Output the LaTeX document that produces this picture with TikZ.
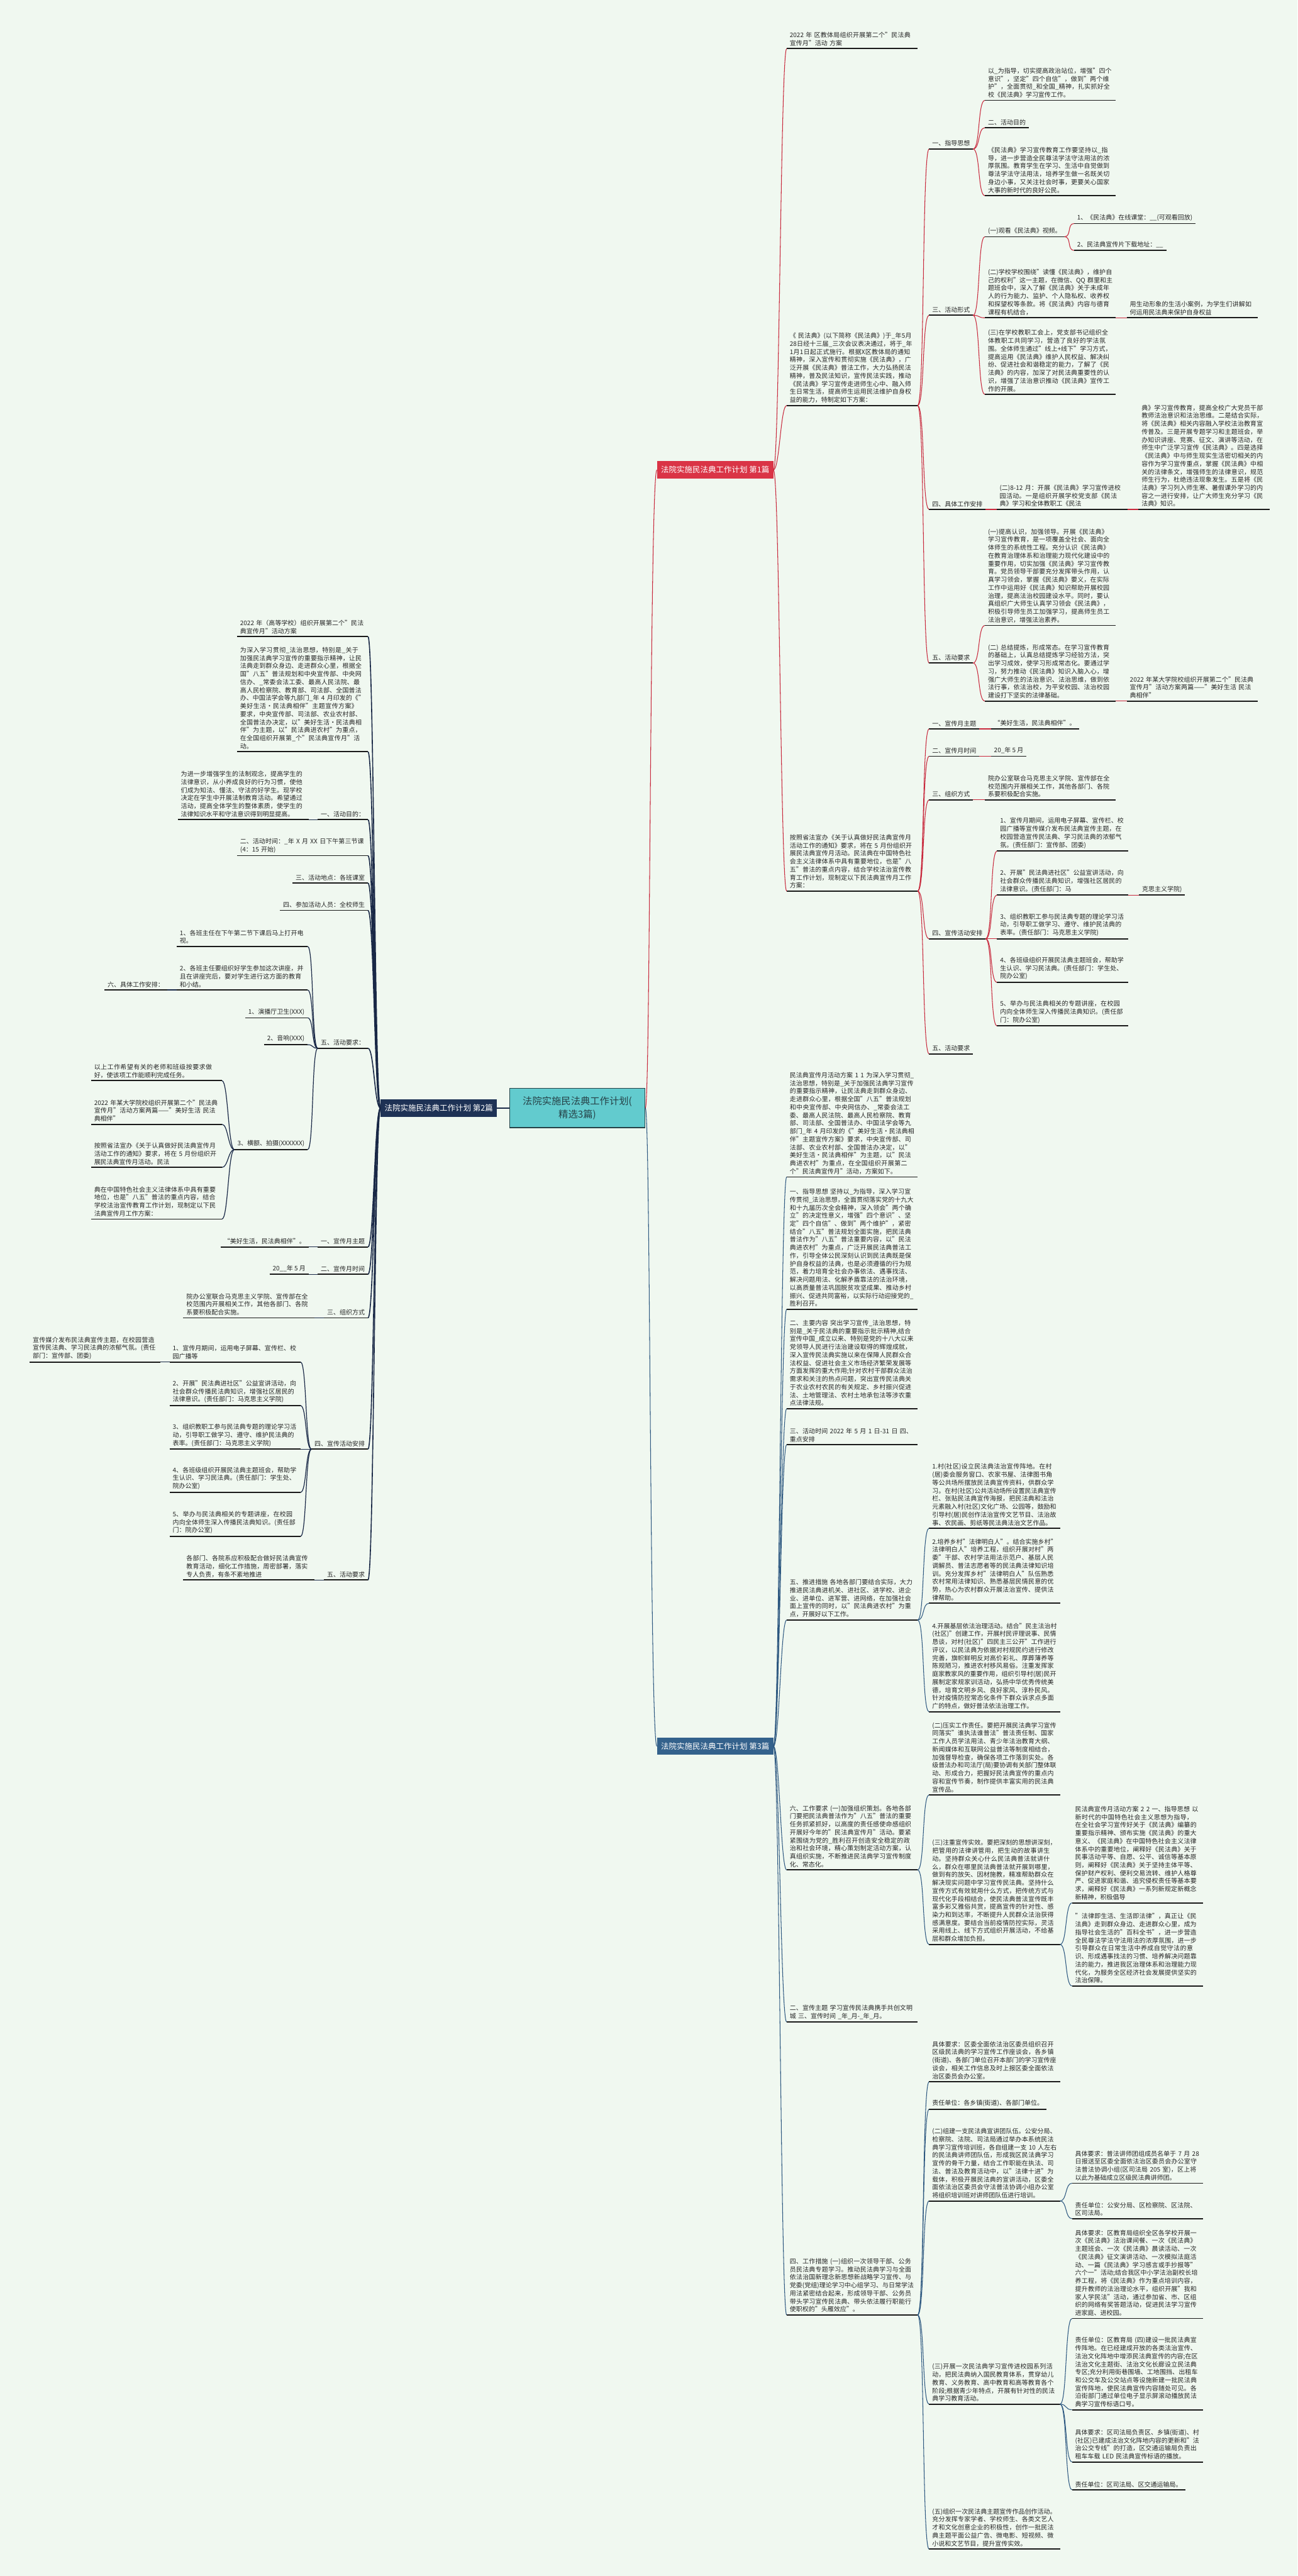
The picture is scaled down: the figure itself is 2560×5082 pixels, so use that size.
\documentclass[tikz,border=0pt]{standalone}
\usepackage{fontspec}
\setmainfont{Noto Sans CJK SC}
\XeTeXlinebreaklocale "zh"
\XeTeXlinebreakskip=0pt plus 1pt
\usepackage{tikz}
\usetikzlibrary{positioning}
\definecolor{bgmint}{RGB}{240,248,240}
\definecolor{rootfill}{RGB}{98,203,206}
\definecolor{rootline}{RGB}{38,66,72}
\definecolor{plan1}{RGB}{218,52,70}
\definecolor{plan2}{RGB}{30,50,85}
\definecolor{plan3}{RGB}{52,98,140}
\definecolor{link1}{RGB}{200,40,60}
\definecolor{link2}{RGB}{25,40,70}
\definecolor{link3}{RGB}{45,88,128}
\definecolor{inkline}{RGB}{25,25,25}
\tikzset{
  root/.style={draw=rootline, line width=1.5pt, fill=rootfill, text=rootline,
    font=\fontsize{19}{26}\selectfont, align=center, minimum width=267pt, minimum height=77pt},
  plan/.style={fill=#1, text=white, font=\fontsize{15.5}{18}\selectfont,
    inner xsep=8pt, minimum height=34pt},
  item/.style={font=\fontsize{12.4}{15.8}\selectfont, text=black!85,
    inner xsep=6pt, inner ysep=5pt, align=left},
  para/.style={item, text width=246pt},
  ul/.style={draw=inkline, line width=2.2pt},
  wire1/.style={draw=link1, line width=1.3pt},
  wire2/.style={draw=link2, line width=1.5pt},
  wire3/.style={draw=link3, line width=1.3pt},
}
\begin{document}
\begin{tikzpicture}[x=1pt, y=-1pt]
\useasboundingbox (0,0) rectangle (2560,5082);
\fill[bgmint] (0,0) rectangle (2560,5082);

% centre and the three plans
\node[root] (root) at (1139,2186) {法院实施民法典工作计划(\\精选3篇)};
\node[plan=plan2, left=24pt of root] (b2) {法院实施民法典工作计划 第2篇};
\node[plan=plan1, anchor=west] (b1) at (1296,927) {法院实施民法典工作计划 第1篇};
\node[plan=plan3, anchor=west] (b3) at (1296,3445) {法院实施民法典工作计划 第3篇};

% plan 1
\begin{scope}[every node/.append style={anchor=south west}]
\node[para] (t1a) at (1552,96) {2022 年 区教体局组织开展第二个"民法典宣传月"活动 方案};
\node[para] (t1b) at (1552,800) {《 民法典》(以下简称《民法典》)于\_年5月28日经十三届\_三次会议表决通过，将于\_年1月1日起正式施行。根据X区教体局的通知精神，深入宣传和贯彻实施《民法典》，广泛开展《民法典》普法工作，大力弘扬民法精神，普及民法知识，宣传民法实践，推动《民法典》学习宣传走进师生心中、融入师生日常生活，提高师生运用民法维护自身权益的能力，特制定如下方案：};
\node[para] (t1c) at (1552,1758) {按照省法宣办《关于认真做好民法典宣传月活动工作的通知》要求，将在 5 月份组织开展民法典宣传月活动。民法典在中国特色社会主义法律体系中具有重要地位，也是"八五"普法的重点内容，结合学校法治宣传教育工作计划，现制定以下民法典宣传月工作方案：};

\node[item] (g1) at (1833,294) {一、指导思想};
\node[item] (g2) at (1833,622) {三、活动形式};
\node[item] (g3) at (1833,1005) {四、具体工作安排};
\node[item] (g4) at (1833,1308) {五、活动要求};

\node[para] (g1a) at (1943,198) {以\_为指导，切实提高政治站位，增强"四个意识"，坚定"四个自信"，做到"两个维护"，全面贯彻\_和全国\_精神，扎实抓好全校《民法典》学习宣传工作。};
\node[item] (g1b) at (1943,252) {二、活动目的};
\node[para] (g1c) at (1943,386) {《民法典》学习宣传教育工作要坚持以\_指导，进一步营造全民尊法学法守法用法的浓厚氛围。教育学生在学习、生活中自觉做到尊法学法守法用法，培养学生做一名既关切身边小事，又关注社会时事，更要关心国家大事的新时代的良好公民。};
\node[item] (g2a) at (1943,467) {(一)观看《民法典》视频。};
\node[para] (g2b) at (1943,627) {(二)学校学校围绕"读懂《民法典》，维护自己的权利"这一主题，在微信、QQ 群里和主题班会中，深入了解《民法典》关于未成年人的行为能力、监护、个人隐私权、收养权和探望权等条款。将《民法典》内容与德育课程有机结合，};
\node[para] (g2c) at (1943,778) {(三)在学校教职工会上，党支部书记组织全体教职工共同学习，营造了良好的学法氛围。全体师生通过"线上+线下"学习方式，提高运用《民法典》维护人民权益、解决纠纷、促进社会和谐稳定的能力，了解了《民法典》的内容，加深了对民法典重要性的认识，增强了法治意识推动《民法典》宣传工作的开展。};
\node[para] (g3a) at (1966,1005) {(二)8-12 月：开展《民法典》学习宣传进校园活动。一是组织开展学校党支部《民法典》学习和全体教职工《民法};
\node[para] (g4a) at (1943,1234) {(一)提高认识，加强领导。开展《民法典》学习宣传教育，是一项覆盖全社会、面向全体师生的系统性工程。充分认识《民法典》在教育治理体系和治理能力现代化建设中的重要作用，切实加强《民法典》学习宣传教育。党员领导干部要充分发挥带头作用，认真学习领会，掌握《民法典》要义，在实际工作中运用好《民法典》知识帮助开展校园治理，提高法治校园建设水平。同时，要认真组织广大师生认真学习领会《民法典》，积极引导师生员工加强学习，提高师生员工法治意识，增强法治素养。};
\node[para] (g4b) at (1943,1383) {(二) 总结提炼，形成常态。在学习宣传教育的基础上，认真总结提炼学习经验方法，突出学习成效，使学习形成常态化。要通过学习，努力推动《民法典》知识入脑入心，增强广大师生的法治意识、法治思维，做到依法行事，依法治校，为平安校园、法治校园建设打下坚实的法律基础。};

\node[item] (g2a1) at (2119,441) {1、《民法典》在线课堂：\_\_(可观看回放)};
\node[item] (g2a2) at (2119,494) {2、民法典宣传片下载地址：\_\_};
\node[para] (g2b1) at (2223,627) {用生动形象的生活小案例，为学生们讲解如何运用民法典来保护自身权益};
\node[para] (g3a1) at (2246,1005) {典》学习宣传教育，提高全校广大党员干部教师法治意识和法治思维。二是结合实际，将《民法典》相关内容融入学校法治教育宣传普及。三是开展专题学习和主题班会，举办知识讲座、竞赛、征文、演讲等活动，在师生中广泛学习宣传《民法典》。四是选择《民法典》中与师生现实生活密切相关的内容作为学习宣传重点，掌握《民法典》中相关的法律条文，增强师生的法律意识，规范师生行为，杜绝违法现象发生。五是将《民法典》学习列入师生寒、暑假课外学习的内容之一进行安排，让广大师生充分学习《民法典》知识。};
\node[para] (g4b1) at (2223,1383) {2022 年某大学院校组织开展第二个"民法典宣传月"活动方案两篇——"美好生活 民法典相伴"};

\node[item] (h1) at (1833,1438) {一、宣传月主题};
\node[item] (h2) at (1833,1492) {二、宣传月时间};
\node[item] (h3) at (1833,1578) {三、组织方式};
\node[item] (h4) at (1833,1852) {四、宣传活动安排};
\node[item] (h5) at (1833,2079) {五、活动要求};
\node[item] (h1a) at (1955,1438) {“美好生活，民法典相伴”。};
\node[item] (h2a) at (1955,1492) {20\_年 5 月};
\node[para] (h3a) at (1943,1578) {院办公室联合马克思主义学院、宣传部在全校范围内开展相关工作，其他各部门、各院系要积极配合实施。};
\node[para] (h4a) at (1967,1679) {1、宣传月期间，运用电子屏幕、宣传栏、校园广播等宣传媒介发布民法典宣传主题，在校园营造宣传民法典、学习民法典的浓郁气氛。(责任部门：宣传部、团委)};
\node[para] (h4b) at (1967,1766) {2、开展"民法典进社区"公益宣讲活动，向社会群众传播民法典知识，增强社区居民的法律意识。(责任部门：马};
\node[para] (h4c) at (1967,1852) {3、组织教职工参与民法典专题的理论学习活动，引导职工做学习、遵守、维护民法典的表率。(责任部门：马克思主义学院)};
\node[para] (h4d) at (1967,1938) {4、各班级组织开展民法典主题班会，帮助学生认识、学习民法典。(责任部门：学生处、院办公室)};
\node[para] (h4e) at (1967,2024) {5、举办与民法典相关的专题讲座，在校园内向全体师生深入传播民法典知识。(责任部门：院办公室)};
\node[item] (h4b1) at (2247,1766) {克思主义学院)};
\end{scope}

% plan 3
\begin{scope}[every node/.append style={anchor=south west}]
\node[para] (s1) at (1552,2322) {民法典宣传月活动方案 1 1 为深入学习贯彻\_法治思想，特别是\_关于加强民法典学习宣传的重要指示精神，让民法典走到群众身边、走进群众心里，根据全国"八五"普法规划和中央宣传部、中央网信办、\_常委会法工委、最高人民法院、最高人民检察院、教育部、司法部、全国普法办、中国法学会等九部门\_年 4 月印发的《"美好生活·民法典相伴"主题宣传方案》要求，中央宣传部、司法部、农业农村部、全国普法办决定，以"美好生活·民法典相伴"为主题，以"民法典进农村"为重点，在全国组织开展第二个"民法典宣传月"活动，方案如下。};
\node[para] (s2) at (1552,2583) {一、指导思想 坚持以\_为指导，深入学习宣传贯彻\_法治思想，全面贯彻落实党的十九大和十九届历次全会精神，深入领会"两个确立"的决定性意义，增强"四个意识"、坚定"四个自信"、做到"两个维护"，紧密结合"八五"普法规划全面实施，把民法典普法作为"八五"普法重要内容，以"民法典进农村"为重点，广泛开展民法典普法工作，引导全体公民深刻认识到民法典既是保护自身权益的法典，也是必须遵循的行为规范，着力培育全社会办事依法、遇事找法、解决问题用法、化解矛盾靠法的法治环境，以高质量普法巩固脱贫攻坚成果、推动乡村振兴、促进共同富裕，以实际行动迎接党的\_胜利召开。};
\node[para] (s3) at (1552,2779) {二、主要内容 突出学习宣传\_法治思想，特别是\_关于民法典的重要指示批示精神,结合宣传中国\_成立以来、特别是党的十八大以来党领导人民进行法治建设取得的辉煌成就，深入宣传民法典实施以来在保障人民群众合法权益、促进社会主义市场经济繁荣发展等方面发挥的重大作用;针对农村干部群众法治需求和关注的热点问题，突出宣传民法典关于农业农村农民的有关规定、乡村振兴促进法、土地管理法、农村土地承包法等涉农重点法律法规。};
\node[para] (s4) at (1552,2850) {三、活动时间 2022 年 5 月 1 日-31 日 四、重点安排};
\node[para] (s5) at (1552,3196) {五、推进措施 各地各部门要结合实际，大力推进民法典进机关、进社区、进学校、进企业、进单位、进军营、进网络，在加强社会面上宣传的同时，以"民法典进农村"为重点，开展好以下工作。};
\node[para] (s6) at (1552,3689) {六、工作要求 (一)加强组织策划。各地各部门要把民法典普法作为"八五"普法的重要任务抓紧抓好，以高度的责任感使命感组织开展好今年的"民法典宣传月"活动。要紧紧围绕为党的\_胜利召开创造安全稳定的政治和社会环境，精心策划制定活动方案，认真组织实施，不断推进民法典学习宣传制度化、常态化。};
\node[para] (s7) at (1552,3989) {二、宣传主题 学习宣传民法典携手共创文明城 三、宣传时间 \_年\_月-\_年\_月。};
\node[para] (s8) at (1552,4567) {四、工作措施 (一)组织一次领导干部、公务员民法典专题学习。推动民法典学习与全面依法治国新理念新思想新战略学习宣传、与党委(党组)理论学习中心组学习、与日常学法用法紧密结合起来，形成领导干部、公务员带头学习宣传民法典、带头依法履行职能行使职权的"头雁效应"。};

\node[para] (s5a) at (1833,3015) {1.村(社区)设立民法典法治宣传阵地。在村(居)委会服务窗口、农家书屋、法律图书角等公共场所摆放民法典宣传资料，供群众学习。在村(社区)公共活动场所设置民法典宣传栏、张贴民法典宣传海报，把民法典和法治元素融入村(社区)文化广场、公园等，鼓励和引导村(居)民创作法治宣传文艺节目、法治故事、农民画、剪纸等民法典法治文艺作品。};
\node[para] (s5b) at (1833,3163) {2.培养乡村"法律明白人"。结合实施乡村"法律明白人"培养工程，组织开展对村"两委"干部、农村学法用法示范户、基层人民调解员、普法志愿者等的民法典法律知识培训。充分发挥乡村"法律明白人"队伍熟悉农村常用法律知识、熟悉基层民情民意的优势，热心为农村群众开展法治宣传、提供法律帮助。};
\node[para] (s5c) at (1833,3377) {4.开展基层依法治理活动。结合"民主法治村(社区)"创建工作，开展村民评理说事、民情恳谈，对村(社区)"四民主三公开"工作进行评议，以民法典为依据对村规民约进行修改完善，旗帜鲜明反对高价彩礼、厚葬薄养等陈规陋习，推进农村移风易俗。注重发挥家庭家教家风的重要作用，组织引导村(居)民开展制定家规家训活动，弘扬中华优秀传统美德，培育文明乡风、良好家风、淳朴民风。针对疫情防控常态化条件下群众诉求点多面广的特点，做好普法依法治理工作。};
\node[para] (s6a) at (1833,3541) {(二)压实工作责任。要把开展民法典学习宣传同落实"谁执法谁普法"普法责任制、国家工作人员学法用法、青少年法治教育大纲、新闻媒体和互联网公益普法等制度相结合，加强督导检查，确保各项工作落到实处。各级普法办和司法厅(局)要协调有关部门整体联动、形成合力，把握好民法典宣传的重点内容和宣传节奏，制作提供丰富实用的民法典宣传品。};
\node[para] (s6b) at (1833,3836) {(三)注重宣传实效。要把深刻的思想讲深刻，把管用的法律讲管用，把生动的故事讲生动。坚持群众关心什么民法典普法就讲什么，群众在哪里民法典普法就开展到哪里，做到有的放矢、因材施教，精准帮助群众在解决现实问题中学习宣传民法典。坚持什么宣传方式有效就用什么方式，把传统方式与现代化手段相结合，使民法典普法宣传既丰富多彩又雅俗共赏，提高宣传的针对性、感染力和到达率，不断提升人民群众法治获得感满意度。要结合当前疫情防控实际，灵活采用线上、线下方式组织开展活动，不给基层和群众增加负担。};
\node[para] (s6b1) at (2115,3754) {民法典宣传月活动方案 2 2 一、指导思想 以新时代的中国特色社会主义思想为指导，在全社会学习宣传好关于《民法典》编纂的重要指示精神、颁布实施《民法典》的重大意义、《民法典》在中国特色社会主义法律体系中的重要地位，阐释好《民法典》关于民事活动平等、自愿、公平、诚信等基本原则，阐释好《民法典》关于坚持主体平等、保护财产权利、便利交易流转、维护人格尊严、促进家庭和谐、追究侵权责任等基本要求，阐释好《民法典》一系列新规定新概念新精神，积极倡导};
\node[para] (s6b2) at (2115,3918) {"法律即生活、生活即法律"，真正让《民法典》走到群众身边、走进群众心里，成为指导社会生活的"百科全书"，进一步营造全民尊法学法守法用法的浓厚氛围，进一步引导群众在日常生活中养成自觉守法的意识、形成遇事找法的习惯、培养解决问题靠法的能力，推进我区治理体系和治理能力现代化，为服务全区经济社会发展提供坚实的法治保障。};
\node[para] (s8a) at (1833,4107) {具体要求：区委全面依法治区委员组织召开区级民法典的学习宣传工作座谈会，各乡镇(街道)、各部门单位召开本部门的学习宣传座谈会，相关工作信息及时上报区委全面依法治区委员会办公室。};
\node[item] (s8b) at (1833,4161) {责任单位：各乡镇(街道)、各部门单位。};
\node[para] (s8c) at (1833,4342) {(二)组建一支民法典宣讲团队伍。公安分局、检察院、法院、司法局通过举办本系统民法典学习宣传培训班，各自组建一支 10 人左右的民法典讲师团队伍，形成我区民法典学习宣传的骨干力量，结合工作职能在执法、司法、普法及教育活动中，以"法律十进"为载体，积极开展民法典的宣讲活动，区委全面依法治区委员会守法普法协调小组办公室将组织培训班对讲师团队伍进行培训。};
\node[para] (s8d) at (1833,4743) {(三)开展一次民法典学习宣传进校园系列活动，把民法典纳入国民教育体系，贯穿幼儿教育、义务教育、高中教育和高等教育各个阶段;根据青少年特点，开展有针对性的民法典学习教育活动。};
\node[para] (s8e) at (1833,5029) {(五)组织一次民法典主题宣传作品创作活动。充分发挥专家学者、学校师生、各类文艺人才和文化创意企业的积极性，创作一批民法典主题平面公益广告、微电影、短视频、微小说和文艺节目，提升宣传实效。};
\node[para] (s8c1) at (2115,4307) {具体要求：普法讲师团组成员名单于 7 月 28 日报送至区委全面依法治区委员会办公室守法普法协调小组(区司法局 205 室)，区上将以此为基础成立区级民法典讲师团。};
\node[para] (s8c2) at (2115,4377) {责任单位：公安分局、区检察院、区法院、区司法局。};
\node[para] (s8d1) at (2115,4574) {具体要求：区教育局组织全区各学校开展一次《民法典》法治课间餐、一次《民法典》主题班会、一次《民法典》晨读活动、一次《民法典》征文演讲活动、一次模拟法庭活动、一篇《民法典》学习感言或手抄报等"六个一"活动;结合我区中小学法治副校长培养工程，将《民法典》作为重点培训内容，提升教师的法治理论水平，组织开展"我和家人学民法"活动，通过参加省、市、区组织的网络有奖答题活动，促进民法学习宣传进家庭、进校园。};
\node[para] (s8d2) at (2115,4754) {责任单位：区教育局 (四)建设一批民法典宣传阵地。在已经建成开放的各类法治宣传、法治文化阵地中增添民法典宣传的内容;在区法治文化主题街、法治文化长廊设立民法典专区;充分利用街巷围墙、工地围挡、出租车和公交车及公交站点等设施新建一批民法典宣传阵地，使民法典宣传内容随处可见。各沿街部门通过单位电子显示屏滚动播放民法典学习宣传标语口号。};
\node[para] (s8d3) at (2115,4857) {具体要求：区司法局负责区、乡镇(街道)、村(社区)已建成法治文化阵地内容的更新和"法治公交专线"的打造，区交通运输局负责出租车车载 LED 民法典宣传标语的播放。};
\node[item] (s8d4) at (2115,4912) {责任单位：区司法局、区交通运输局。};
\end{scope}

% plan 2 (left side)
\begin{scope}[every node/.append style={anchor=south east}]
\node[para] (L1) at (726,1256) {2022 年（高等学校）组织开展第二个"民法典宣传月"活动方案};
\node[para] (L2) at (726,1483) { 为深入学习贯彻\_法治思想，特别是\_关于加强民法典学习宣传的重要指示精神，让民法典走到群众身边、走进群众心里，根据全国"八五"普法规划和中央宣传部、中央网信办、\_常委会法工委、最高人民法院、最高人民检察院、教育部、司法部、全国普法办、中国法学会等九部门\_年 4 月印发的《"美好生活·民法典相伴"主题宣传方案》要求，中央宣传部、司法部、农业农村部、全国普法办决定，以"美好生活·民法典相伴"为主题，以"民法典进农村"为重点，在全国组织开展第\_个"民法典宣传月"活动。};
\node[item] (L3) at (726,1617) {一、活动目的：};
\node[para] (L4) at (726,1688) {二、活动时间：\_年 X 月 XX 日下午第三节课(4：15 开始)};
\node[item] (L5) at (726,1742) {三、活动地点：各班课室};
\node[item] (L6) at (726,1796) {四、参加活动人员：全校师生};
\node[item] (L7) at (726,2068) {五、活动要求：};
\node[item] (L8) at (726,2460) {一、宣传月主题};
\node[item] (L9) at (726,2514) {二、宣传月时间};
\node[item] (L10) at (726,2600) {三、组织方式};
\node[item] (L11) at (726,2859) {四、宣传活动安排};
\node[item] (L12) at (726,3117) {五、活动要求};

\node[para] (L3a) at (609,1617) {为进一步增强学生的法制观念，提高学生的法律意识，从小养成良好的行为习惯，使他们成为知法、懂法、守法的好学生。现学校决定在学生中开展法制教育活动。希望通过活动，提高全体学生的整体素质，使学生的法律知识水平和守法意识得到明显提高。};
\node[para] (L7a) at (607,1867) {1、各班主任在下午第二节下课后马上打开电视。};
\node[para] (L7b) at (607,1953) {2、各班主任要组织好学生参加这次讲座，并且在讲座完后，要对学生进行这方面的教育和小结。};
\node[item] (L7b1) at (330,1953) {六、具体工作安排：};
\node[item] (L7c) at (607,2008) {1、演播厅卫生(XXX)};
\node[item] (L7d) at (607,2061) {2、音响(XXX)};
\node[item] (L7e) at (607,2268) {3、横额、拍摄(XXXXXX)};
\node[para] (L7e1) at (438,2132) {以上工作希望有关的老师和班级按要求做好，使该项工作能顺利完成任务。};
\node[para] (L7e2) at (438,2218) {2022 年某大学院校组织开展第二个"民法典宣传月"活动方案两篇——"美好生活 民法典相伴"};
\node[para] (L7e3) at (438,2303) { 按照省法宣办《关于认真做好民法典宣传月活动工作的通知》要求，将在 5 月份组织开展民法典宣传月活动。民法};
\node[para] (L7e4) at (438,2405) {典在中国特色社会主义法律体系中具有重要地位，也是"八五"普法的重点内容，结合学校法治宣传教育工作计划，现制定以下民法典宣传月工作方案：};
\node[item] (L8a) at (609,2460) {“美好生活，民法典相伴”。};
\node[item] (L9a) at (609,2514) {20\_\_年 5 月};
\node[para] (L10a) at (620,2600) {院办公室联合马克思主义学院、宣传部在全校范围内开展相关工作，其他各部门、各院系要积极配合实施。};
\node[para] (L11a) at (593,2687) {1、宣传月期间，运用电子屏幕、宣传栏、校园广播等};
\node[para] (L11a1) at (317,2687) {宣传媒介发布民法典宣传主题，在校园营造宣传民法典、学习民法典的浓郁气氛。(责任部门：宣传部、团委)};
\node[para] (L11b) at (593,2773) {2、开展"民法典进社区"公益宣讲活动，向社会群众传播民法典知识，增强社区居民的法律意识。(责任部门：马克思主义学院)};
\node[para] (L11c) at (593,2859) {3、组织教职工参与民法典专题的理论学习活动，引导职工做学习、遵守、维护民法典的表率。(责任部门：马克思主义学院)};
\node[para] (L11d) at (593,2944) {4、各班级组织开展民法典主题班会，帮助学生认识、学习民法典。(责任部门：学生处、院办公室)};
\node[para] (L11e) at (593,3031) {5、举办与民法典相关的专题讲座，在校园内向全体师生深入传播民法典知识。(责任部门：院办公室)};
\node[para] (L12a) at (620,3117) {各部门、各院系应积极配合做好民法典宣传教育活动，细化工作措施，周密部署，落实专人负责，有条不紊地推进};
\end{scope}

% underlines
\foreach \n in {t1a,t1b,t1c,g1,g2,g3,g4,g1a,g1b,g1c,g2a,g2b,g2c,g3a,g4a,g4b,g2a1,g2a2,g2b1,g3a1,g4b1,
  h1,h2,h3,h4,h5,h1a,h2a,h3a,h4a,h4b,h4c,h4d,h4e,h4b1,
  s1,s2,s3,s4,s5,s6,s7,s8,s5a,s5b,s5c,s6a,s6b,s6b1,s6b2,s8a,s8b,s8c,s8d,s8e,s8c1,s8c2,s8d1,s8d2,s8d3,s8d4,
  L1,L2,L3,L4,L5,L6,L7,L8,L9,L10,L11,L12,L3a,L7a,L7b,L7b1,L7c,L7d,L7e,L7e1,L7e2,L7e3,L7e4,
  L8a,L9a,L10a,L11a,L11a1,L11b,L11c,L11d,L11e,L12a}
  \draw[ul] (\n.south west) -- (\n.south east);

% connectors
\draw[wire2] (root.west) -- (b2.east);
\draw[wire1] (root.east) .. controls +(10,0) and +(-14,0) .. (b1.west);
\draw[wire3] (root.east) .. controls +(10,0) and +(-14,0) .. (b3.west);

\foreach \c in {t1a,t1b,t1c}
  \draw[wire1] (b1.east) .. controls +(12,0) and +(-12,0) .. (\c.south west);
\foreach \a/\c in {t1b/g1,t1b/g2,t1b/g3,t1b/g4,g1/g1a,g1/g1b,g1/g1c,g2/g2a,g2/g2b,g2/g2c,g3/g3a,g4/g4a,g4/g4b,
  g2a/g2a1,g2a/g2a2,g2b/g2b1,g3a/g3a1,g4b/g4b1,t1c/h1,t1c/h2,t1c/h3,t1c/h4,t1c/h5,h1/h1a,h2/h2a,h3/h3a,
  h4/h4a,h4/h4b,h4/h4c,h4/h4d,h4/h4e,h4b/h4b1}
  \draw[wire1] (\a.south east) .. controls +(14,0) and +(-14,0) .. (\c.south west);

\foreach \c in {s1,s2,s3,s4,s5,s6,s7,s8}
  \draw[wire3] (b3.east) .. controls +(12,0) and +(-12,0) .. (\c.south west);
\foreach \a/\c in {s5/s5a,s5/s5b,s5/s5c,s6/s6a,s6/s6b,s6b/s6b1,s6b/s6b2,s8/s8a,s8/s8b,s8/s8c,s8/s8d,s8/s8e,
  s8c/s8c1,s8c/s8c2,s8d/s8d1,s8d/s8d2,s8d/s8d3,s8d/s8d4}
  \draw[wire3] (\a.south east) .. controls +(14,0) and +(-14,0) .. (\c.south west);

\foreach \c in {L1,L2,L3,L4,L5,L6,L7,L8,L9,L10,L11,L12}
  \draw[wire2, line width=2pt] (b2.west) .. controls +(-12,0) and +(12,0) .. (\c.south east);
\foreach \a/\c in {L3/L3a,L7/L7a,L7/L7b,L7/L7c,L7/L7d,L7/L7e,L7b/L7b1,L7e/L7e1,L7e/L7e2,L7e/L7e3,L7e/L7e4,
  L8/L8a,L9/L9a,L10/L10a,L11/L11a,L11/L11b,L11/L11c,L11/L11d,L11/L11e,L11a/L11a1,L12/L12a}
  \draw[wire2] (\a.south west) .. controls +(-12,0) and +(12,0) .. (\c.south east);
\end{tikzpicture}
\end{document}
